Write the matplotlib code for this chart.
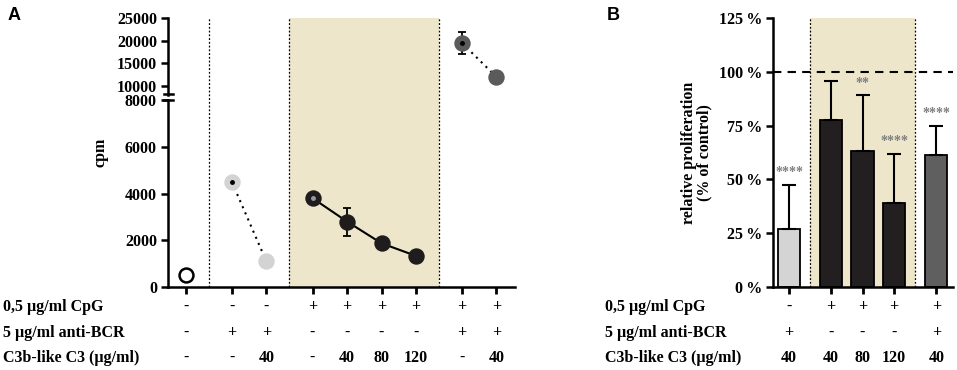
import matplotlib
matplotlib.use('Agg')
import matplotlib.pyplot as plt
from matplotlib.lines import Line2D
from matplotlib.transforms import blended_transform_factory

plt.rcParams['font.family'] = ['Liberation Serif', 'DejaVu Serif']
plt.rcParams['font.weight'] = 'bold'
plt.rcParams['axes.labelweight'] = 'bold'
plt.rcParams['axes.linewidth'] = 1.8

# ---- data, panel A ----
pos_a = [0, 1.33, 2.33, 3.67, 4.67, 5.67, 6.67, 8, 9]
cpm = [500, 4500, 1100, 3800, 2800, 1870, 1330, 19500, 12000]
cpm_err = [0, 0, 0, 0, 600, 100, 100, 2400, 0]
cpg_a = ['-', '-', '-', '+', '+', '+', '+', '+', '+']
bcr_a = ['-', '+', '+', '-', '-', '-', '-', '+', '+']
c3_a = ['-', '-', '40', '-', '40', '80', '120', '-', '40']

# ---- data, panel B ----
pos_b = [0, 1.33, 2.33, 3.33, 4.67]
prolif = [27, 77.5, 63, 39, 61.5]
prolif_err = [20.5, 18, 26, 23, 13.5]
stars = ['****', '', '**', '****', '****']
cpg_b = ['-', '+', '+', '+', '+']
bcr_b = ['+', '-', '-', '-', '+']
c3_b = ['40', '40', '80', '120', '40']

row_names = ['0,5 µg/ml CpG', '5 µg/ml anti-BCR', 'C3b-like C3 (µg/ml)']

W, H = 957, 370
fig = plt.figure(figsize=(W / 100, H / 100), dpi=100)

def box(x0, y0, x1, y1):
    return [x0 / W, 1 - y1 / H, (x1 - x0) / W, (y1 - y0) / H]

shade = '#ede6ca'
fs = 11.5
xlim_a = (-0.52, 9.54)
xlim_b = (-0.51, 5.2)

# background axes for panel A (shading + dotted separators through the break)
bg = fig.add_axes(box(168, 18, 515, 287))
bg.set_xlim(*xlim_a)
bg.set_ylim(0, 1)
bg.axis('off')
bg.axvspan(3.0, 7.33, color=shade, lw=0)
for xv in [0.667, 3.0, 7.33]:
    bg.axvline(xv, color='black', ls=(0, (1.5, 1.5)), lw=0.9)

up = fig.add_axes(box(168, 18, 515, 95))
lo = fig.add_axes(box(168, 100, 515, 287))
for ax in (up, lo):
    ax.set_facecolor('none')
    ax.set_xlim(*xlim_a)
    for s in ['top', 'right']:
        ax.spines[s].set_visible(False)
    ax.tick_params(axis='y', direction='out', length=5, width=1.8, labelsize=fs, pad=3)
up.set_ylim(8000, 25000)
up.set_yticks([10000, 15000, 20000, 25000])
up.spines['bottom'].set_visible(False)
up.set_xticks([])
lo.set_ylim(0, 8000)
lo.set_yticks([0, 2000, 4000, 6000, 8000])
lo.set_xticks(pos_a)
lo.set_xticklabels([])
lo.tick_params(axis='x', direction='out', length=5, width=2)
lo.set_ylabel('cpm', fontsize=fs)
lo.yaxis.set_label_coords(-0.172, 0.72)

# break marks
for yb in [94, 100]:
    fig.add_artist(Line2D([164 / W, 173 / W], [1 - yb / H] * 2, color='black', lw=1.8))

def pts(ax, idx, face, edge='none', ls=None, center=None):
    xs = [pos_a[i] for i in idx]
    ys = [cpm[i] for i in idx]
    es = [cpm_err[i] for i in idx]
    if ls:
        ax.plot(xs, ys, color='black', ls=ls, lw=1.5, zorder=2)
    ax.errorbar(xs, ys, yerr=es, fmt='none', ecolor='black', elinewidth=1.3, capsize=3, capthick=1.3, zorder=3)
    ax.plot(xs, ys, 'o', ms=10, mfc=face, mec=edge if edge != 'none' else face, mew=1.8, ls='none', zorder=4)
    if center:
        ax.plot(xs[0], ys[0], 'o', ms=2.5, color=center, zorder=5)

pts(lo, [0], 'white', 'black')
pts(lo, [1, 2], '#d3d3d3', ls=(0, (1, 2.2)), center='black')
pts(lo, [3, 4, 5, 6], '#1f1c1d', ls='-', center='#999999')
pts(up, [7, 8], '#5b5b5b', ls=(0, (1, 2.2)), center='black')

# ---- panel B ----
axb = fig.add_axes(box(773, 18, 953, 287))
axb.set_xlim(*xlim_b)
axb.set_ylim(0, 125)
for s in ['top', 'right']:
    axb.spines[s].set_visible(False)
axb.axvspan(0.667, 4.0, color=shade, lw=0, zorder=0)
for xv in [0.667, 4.0]:
    axb.axvline(xv, color='black', ls=(0, (1.5, 1.5)), lw=0.9, zorder=1)
axb.axhline(100, color='black', ls=(0, (4, 3)), lw=1.5, zorder=1)
colors_b = ['#d4d4d4', '#231f20', '#231f20', '#231f20', '#5f5f5f']
axb.bar(pos_b, prolif, width=0.7, color=colors_b, edgecolor='black', lw=1.3, zorder=2)
axb.errorbar(pos_b, prolif, yerr=[[0] * 5, prolif_err], fmt='none', ecolor='black',
             elinewidth=1.5, capsize=5, capthick=1.5, zorder=3)
for x, v, e, s in zip(pos_b, prolif, prolif_err, stars):
    if s:
        axb.text(x, v + e + 2.5, s, ha='center', va='bottom', fontsize=10, color='#7f7f7f')
axb.set_yticks([0, 25, 50, 75, 100, 125])
axb.set_yticklabels(['0\u2009%', '25\u2009%', '50\u2009%', '75\u2009%', '100\u2009%', '125\u2009%'])
axb.set_xticks(pos_b)
axb.set_xticklabels([])
axb.tick_params(axis='y', direction='out', length=5, width=1.8, labelsize=fs, pad=3)
axb.tick_params(axis='x', direction='out', length=5, width=2)
axb.set_ylabel('relative proliferation\n(% of control)', fontsize=fs, linespacing=1.0)
axb.yaxis.set_label_coords(-0.335, 0.5)

# ---- condition rows ----
row_y = [307, 333, 358]
rows_a = [cpg_a, bcr_a, c3_a]
rows_b = [cpg_b, bcr_b, c3_b]
ta = blended_transform_factory(lo.transData, fig.transFigure)
tb = blended_transform_factory(axb.transData, fig.transFigure)
for yy, name, ra, rb in zip(row_y, row_names, rows_a, rows_b):
    fy = 1 - yy / H
    fig.text(3 / W, fy, name, ha='left', va='center', fontsize=fs)
    fig.text(605 / W, fy, name, ha='left', va='center', fontsize=fs)
    for x, t in zip(pos_a, ra):
        lo.text(x, fy, t, transform=ta, ha='center', va='center', fontsize=fs)
    for x, t in zip(pos_b, rb):
        axb.text(x, fy, t, transform=tb, ha='center', va='center', fontsize=fs)

fig.text(14 / W, 1 - 16 / H, 'A', family='Liberation Sans', fontsize=13, weight='bold', ha='center', va='center')
fig.text(613 / W, 1 - 16 / H, 'B', family='Liberation Sans', fontsize=13, weight='bold', ha='center', va='center')

fig.savefig('out.png', dpi=100)
